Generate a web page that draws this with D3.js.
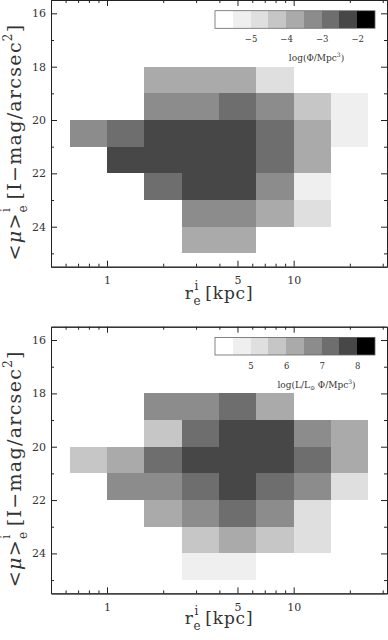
<!DOCTYPE html>
<html>
<head>
  <meta charset="utf-8">
  <title>Size - surface brightness</title>
  <script src="https://cdn.jsdelivr.net/npm/d3@7/dist/d3.min.js"></script>
  <style>
    body { margin: 0; background: #fff; }
    text { font-family: "DejaVu Serif", serif; fill: #333; }
  </style>
</head>
<body>
  <svg width="388" height="640" id="mainsvg"></svg>
  <script>
    // bins: lower edges, log10(r_e / kpc) in steps of 0.2, mu in steps of 1
    const xBinsLog = [-0.2, 0, 0.2, 0.4, 0.6, 0.8, 1.0, 1.2];
    const muBins = [18, 19, 20, 21, 22, 23, 24];

    // log(Phi/Mpc^3), one row per mu bin
    const phiGrid = [
      [null, null, -3.8, -3.8, -3.8, -4.7, null, null],
      [null, null, -3.3, -3.3, -2.8, -3.3, -4.3, -5.2],
      [-3.3, -2.8, -2.3, -2.3, -2.3, -2.8, -3.8, -5.2],
      [null, -2.3, -2.3, -2.3, -2.3, -2.8, -3.8, null],
      [null, null, -2.8, -2.3, -2.3, -3.3, -5.2, null],
      [null, null, null, -3.3, -3.3, -3.8, -4.7, null],
      [null, null, null, -3.8, -3.8, null, null, null]
    ];
    // log(L/Lsun Phi/Mpc^3)
    const lumGrid = [
      [null, null, 6.8, 6.8, 7.2, 6.3, null, null],
      [null, null, 5.8, 7.2, 7.7, 7.7, 6.8, 6.3],
      [5.8, 6.3, 7.2, 7.7, 7.7, 7.7, 7.2, 6.3],
      [null, 6.8, 6.8, 7.2, 7.7, 7.2, 6.8, 5.3],
      [null, null, 6.3, 6.8, 7.2, 6.8, 5.3, null],
      [null, null, null, 5.8, 6.3, 5.8, 5.3, null],
      [null, null, null, 4.8, 4.8, null, null, null]
    ];

    const greys = ['#ffffff', '#efefef', '#dfdfdf', '#c6c6c6', '#aaaaaa', '#8c8c8c', '#6e6e6e', '#474747', '#000000'];
    const phiLevels = [-6, -5.5, -5, -4.5, -4, -3.5, -3, -2.5, -2, -1.5];
    const lumLevels = [4, 4.5, 5, 5.5, 6, 6.5, 7, 7.5, 8, 8.5];
    const phiTicks = [-5, -4, -3, -2];
    const lumTicks = [5, 6, 7, 8];

    const xMajor = [1, 5, 10];
    const xMinor = [0.6, 0.7, 0.8, 0.9, 2, 3, 4, 6, 7, 8, 9, 20, 30];
    const yMajor = [16, 18, 20, 22, 24];
    const yMinor = [17, 19, 21, 23, 25];

    const svg = d3.select('#mainsvg');
    const left = 51, right = 387, panelH = 266.7;
    const binW = 0.2;

    const xScale = d3.scaleLog()
      .domain([Math.pow(10, -0.3), Math.pow(10, 1.5)])
      .range([left, right]);

    const drawPanel = function (top, grid, levels, cbTicks, cbLabel, xLabOffset) {
      const yScale = d3.scaleLinear().domain([15.5, 25.5]).range([top, top + panelH]);
      const color = d3.scaleThreshold().domain(levels.slice(1, -1)).range(greys);
      const g = svg.append('g');

      // cells
      const cells = [];
      grid.forEach((row, i) => row.forEach((v, j) => {
        if (v !== null) cells.push({ mu: muBins[i], lx: xBinsLog[j], v: v });
      }));
      g.selectAll('rect.cell')
        .data(cells)
        .enter()
        .append('rect')
        .attr('class', 'cell')
        .attr('x', d => xScale(Math.pow(10, d.lx)))
        .attr('width', d => xScale(Math.pow(10, d.lx + binW)) - xScale(Math.pow(10, d.lx)))
        .attr('y', d => yScale(d.mu))
        .attr('height', d => yScale(d.mu + 1) - yScale(d.mu))
        .attr('fill', d => color(d.v))
        .attr('shape-rendering', 'crispEdges');

      // colour bar
      const cb = d3.scaleLinear().domain([levels[0], levels[levels.length - 1]]).range([215, 375]);
      const cbTop = top + 10.7, cbH = 17.6;
      g.selectAll('rect.cb')
        .data(levels.slice(0, -1))
        .enter()
        .append('rect')
        .attr('class', 'cb')
        .attr('x', d => cb(d))
        .attr('width', d => cb(d + 0.5) - cb(d))
        .attr('y', cbTop)
        .attr('height', cbH)
        .attr('fill', (d, i) => greys[i])
        .attr('shape-rendering', 'crispEdges');
      g.append('rect')
        .attr('x', cb.range()[0]).attr('y', cbTop)
        .attr('width', cb.range()[1] - cb.range()[0]).attr('height', cbH)
        .attr('fill', 'none').attr('stroke', '#666').attr('stroke-width', 0.8);
      const cbAxis = g.append('g')
        .attr('transform', `translate(0, ${cbTop + cbH})`)
        .call(d3.axisBottom(cb).tickValues(cbTicks).tickFormat(d3.format('d')).tickSize(0).tickPadding(8));
      cbAxis.select('.domain').remove();
      cbAxis.selectAll('text').attr('font-size', 8.5).attr('font-family', '"DejaVu Serif", serif').attr('fill', '#333');

      const lab = g.append('text')
        .attr('x', 316.5).attr('y', top + 61)
        .attr('text-anchor', 'middle').attr('font-size', 9);
      cbLabel(lab);

      // axes, ticks pointing inward on all four sides
      const styleAxis = (sel) => {
        sel.selectAll('.domain').attr('stroke', '#222');
        sel.selectAll('.tick line').attr('stroke', '#222');
        sel.selectAll('text').attr('font-size', 11).attr('font-family', '"DejaVu Serif", serif').attr('fill', '#333');
      };
      const fmt = d3.format('d');
      g.append('g').attr('transform', `translate(0, ${top + panelH})`)
        .call(d3.axisBottom(xScale).tickValues(xMajor).tickFormat(fmt).tickSizeInner(-6).tickSizeOuter(0).tickPadding(10))
        .call(styleAxis);
      g.append('g').attr('transform', `translate(0, ${top + panelH})`)
        .call(d3.axisBottom(xScale).tickValues(xMinor).tickFormat('').tickSizeInner(-3).tickSizeOuter(0))
        .call(styleAxis);
      g.append('g').attr('transform', `translate(0, ${top})`)
        .call(d3.axisTop(xScale).tickValues(xMajor).tickFormat('').tickSizeInner(-6).tickSizeOuter(0))
        .call(styleAxis);
      g.append('g').attr('transform', `translate(0, ${top})`)
        .call(d3.axisTop(xScale).tickValues(xMinor).tickFormat('').tickSizeInner(-3).tickSizeOuter(0))
        .call(styleAxis);
      g.append('g').attr('transform', `translate(${left}, 0)`)
        .call(d3.axisLeft(yScale).tickValues(yMajor).tickFormat(fmt).tickSizeInner(-6).tickSizeOuter(0).tickPadding(5))
        .call(styleAxis);
      g.append('g').attr('transform', `translate(${left}, 0)`)
        .call(d3.axisLeft(yScale).tickValues(yMinor).tickFormat('').tickSizeInner(-3).tickSizeOuter(0))
        .call(styleAxis);
      g.append('g').attr('transform', `translate(${right}, 0)`)
        .call(d3.axisRight(yScale).tickValues(yMajor).tickFormat('').tickSizeInner(-6).tickSizeOuter(0))
        .call(styleAxis);
      g.append('g').attr('transform', `translate(${right}, 0)`)
        .call(d3.axisRight(yScale).tickValues(yMinor).tickFormat('').tickSizeInner(-3).tickSizeOuter(0))
        .call(styleAxis);

      // x label: r_e^i [kpc]
      const xl = g.append('text')
        .attr('x', (left + right) / 2).attr('y', top + panelH + xLabOffset)
        .attr('text-anchor', 'middle').attr('font-size', 17)
        .attr('letter-spacing', 0.8);
      xl.append('tspan').text('r');
      xl.append('tspan').attr('font-size', 12).attr('dy', 6).text('e');
      xl.append('tspan').attr('font-size', 12).attr('dx', -7).attr('dy', -15).text('i');
      xl.append('tspan').attr('dy', 9).text(' [kpc]');

      // y label: <mu>_e^i [I-mag/arcsec^2]
      const yl = g.append('text')
        .attr('transform', `translate(21, ${top + 142}) rotate(-90)`)
        .attr('text-anchor', 'middle').attr('font-size', 19)
        .attr('letter-spacing', 1.3);
      yl.append('tspan').text('<');
      yl.append('tspan').attr('font-style', 'italic').text('μ');
      yl.append('tspan').text('>');
      yl.append('tspan').attr('font-size', 12).attr('dy', 6).text('e');
      yl.append('tspan').attr('font-size', 12).attr('dx', -8).attr('dy', -17).text('i');
      yl.append('tspan').attr('dy', 11).text(' [I−mag/arcsec');
      yl.append('tspan').attr('font-size', 12).attr('dy', -9).text('2');
      yl.append('tspan').attr('dy', 9).text(']');
    };

    drawPanel(0, phiGrid, phiLevels, phiTicks, (t) => {
      t.append('tspan').text('log(Φ/Mpc');
      t.append('tspan').attr('font-size', 6).attr('dy', -4).text('3');
      t.append('tspan').attr('dy', 4).text(')');
    }, 32);
    drawPanel(326.7, lumGrid, lumLevels, lumTicks, (t) => {
      t.append('tspan').text('log(L/L');
      t.append('tspan').attr('font-size', 6).attr('dy', 2).text('⊙');
      t.append('tspan').attr('dy', -2).text(' Φ/Mpc');
      t.append('tspan').attr('font-size', 6).attr('dy', -4).text('3');
      t.append('tspan').attr('dy', 4).text(')');
    }, 31);
  </script>
</body>
</html>
